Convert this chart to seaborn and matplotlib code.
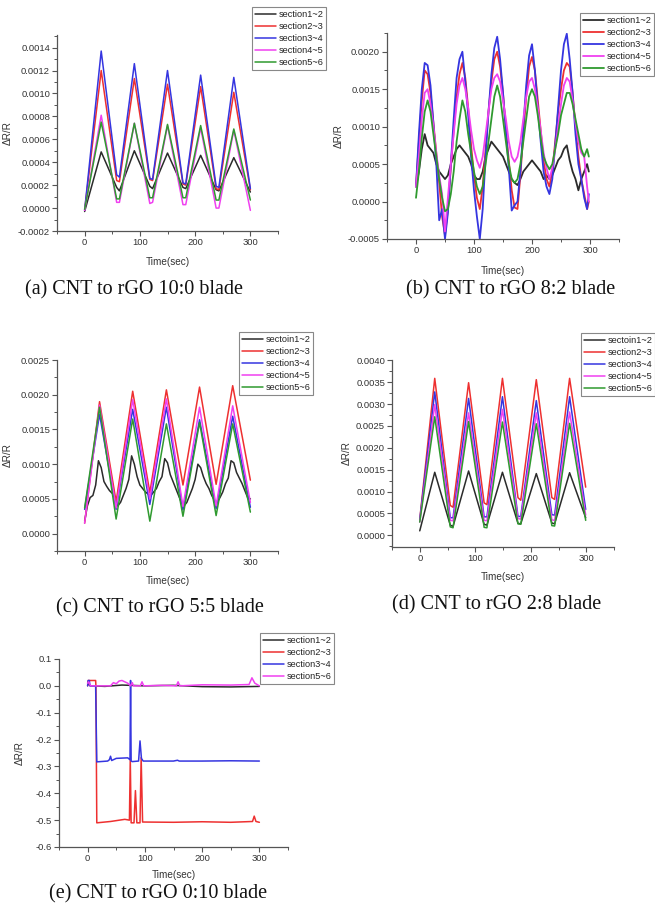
import numpy as np
import pandas as pd
import matplotlib
matplotlib.use("Agg")
import matplotlib.pyplot as plt
from matplotlib.ticker import MultipleLocator, FormatStrFormatter
import seaborn as sns

sns.set_style("ticks")
plt.rcParams["font.family"] = ["Liberation Sans", "DejaVu Sans"]
plt.rcParams["axes.unicode_minus"] = False

# ---------------- data ----------------
# (a) CNT to rGO 10:0
a_time = [0, 30, 58, 63, 90, 118, 123, 150, 178, 183, 210, 238, 243, 270, 300]
a_s12 = [-0.00003, 0.00049, 0.00018, 0.00015, 0.00050, 0.00019, 0.00017, 0.00048, 0.00018, 0.00017, 0.00046, 0.00016, 0.00015, 0.00044, 0.00014]
a_s23 = [-0.00002, 0.00120, 0.00024, 0.00023, 0.00113, 0.00025, 0.00024, 0.00108, 0.00021, 0.00020, 0.00106, 0.00017, 0.00016, 0.00101, 0.00016]
a_s34 = [-0.00002, 0.00137, 0.00029, 0.00027, 0.00126, 0.00026, 0.00025, 0.00120, 0.00022, 0.00021, 0.00116, 0.00019, 0.00018, 0.00114, 0.00017]
a_s45 = [-0.00002, 0.00081, 0.00005, 0.00005, 0.00074, 0.00004, 0.00005, 0.00072, 0.00003, 0.00003, 0.00070, 0.00000, 0.00000, 0.00068, -0.00002]
a_s56 = [-0.00001, 0.00075, 0.00008, 0.00008, 0.00074, 0.00009, 0.00009, 0.00073, 0.00009, 0.00009, 0.00072, 0.00007, 0.00007, 0.00069, 0.00007]

# (b) CNT to rGO 8:2  (values in 1e-4)
b_time = [0, 5, 10, 15, 20, 25, 30, 35, 40, 45, 50, 55, 60, 65, 70, 75, 80, 85, 90, 95,
          100, 105, 110, 115, 120, 125, 130, 135, 140, 145, 150, 155, 160, 165, 170, 175, 180, 185, 190, 195,
          200, 205, 210, 215, 220, 225, 230, 235, 240, 245, 250, 255, 260, 265, 270, 275, 280, 285, 290, 295, 298]
b_s12 = [2, 4, 7, 9, 7.5, 7, 6.5, 5, 4, 3.5, 3, 3.5, 5, 6, 7, 7.5, 7, 6.5, 6, 5,
         3.5, 3, 3, 4, 6, 7, 8, 7.5, 7, 6.5, 6, 5, 4, 3, 2.5, 2.2, 3, 4, 4.5, 5,
         5.5, 5, 4.5, 4, 3, 3.5, 3, 3.5, 4.5, 5.5, 6, 7, 7.5, 5.5, 4, 3, 1.5, 3, 4, 5, 4]
b_s23 = [2, 8, 13.5, 17.5, 17, 14.5, 10.5, 6.5, 2.5, -2, -4.5, -1, 4.5, 9.5, 14, 17, 18.5, 16.5, 12.5, 7.5,
         3.5, 0.5, -1, 2, 7, 12, 16, 19, 20, 18, 14.5, 9.5, 5.5, 1.5, -0.8, -1, 3.5, 9, 14, 18,
         19.3, 17.5, 13.5, 9.5, 5.5, 3, 2, 4, 8, 12, 15, 17.5, 18.5, 18, 14.5, 10, 6, 3, 1, -1, 0]
b_s34 = [2, 9, 15, 18.5, 18.2, 15.5, 10.5, 5, -2.5, -1, -5, -1.5, 5, 11, 16.5, 19, 20, 16, 11.5, 6,
         1.5, -2, -5, -1, 6, 12, 17, 20.5, 22, 19, 14.5, 9.5, 4.5, -1.2, -0.5, 0, 4, 10, 15.5, 19.5,
         21, 17.5, 12.5, 8, 4, 2, 1, 3, 7.5, 12.5, 17.5, 21, 22.4, 19, 14.5, 9, 5, 3, 0.5, -1, 1]
b_s45 = [2, 6, 11, 14.5, 15, 13, 10, 6.5, 3.5, 1, -4, 0.5, 5, 9, 13, 15.5, 16.5, 15, 12.5, 9.5,
         7, 5.5, 4.5, 6, 9, 12, 15, 16.5, 17, 16, 13.5, 11, 8, 6, 5.3, 6, 8, 11, 14, 16,
         16.5, 15, 12.5, 9.5, 6.5, 4.5, 3, 4.5, 7, 10, 13, 15.5, 16.5, 16, 13.5, 10.5, 8, 6.5, 6, 2, 0]
b_s56 = [0.5, 4, 8.5, 12, 13.5, 12, 9, 6, 3, 0.5, -1.3, -1, 1, 4, 8, 11, 13.5, 12, 9, 6.5,
         4, 2, 1, 2, 5, 8, 11, 14, 15.5, 14, 11, 8, 5, 3, 2.5, 3, 5, 8, 11, 14,
         15, 14, 11.5, 8.5, 6, 5, 4.3, 5, 7, 9, 11.5, 13, 14.5, 14.5, 13, 11, 9, 7, 6, 7, 6]

# (c) CNT to rGO 5:5
c_time = [0, 27, 57, 87, 118, 148, 178, 208, 238, 268, 300]
c_s23 = [0.00015, 0.00190, 0.00046, 0.00205, 0.00059, 0.00207, 0.00070, 0.00211, 0.00071, 0.00213, 0.00077]
c_s34 = [0.00035, 0.00172, 0.00035, 0.00179, 0.00042, 0.00182, 0.00034, 0.00164, 0.00036, 0.00169, 0.00038]
c_s45 = [0.00015, 0.00185, 0.00037, 0.00193, 0.00050, 0.00194, 0.00039, 0.00182, 0.00040, 0.00184, 0.00045]
c_s56 = [0.00037, 0.00182, 0.00021, 0.00165, 0.00018, 0.00158, 0.00025, 0.00160, 0.00026, 0.00158, 0.00031]
c_time12 = [0, 5, 10, 15, 20, 25, 30, 35, 40, 45, 50, 55, 60, 65, 70, 75, 80, 85, 90, 95,
            100, 105, 110, 115, 120, 125, 130, 135, 140, 145, 150, 155, 160, 165, 170, 175, 180, 185, 190, 195,
            200, 205, 210, 215, 220, 225, 230, 235, 240, 245, 250, 255, 260, 265, 270, 275, 280, 285, 290, 295, 300]
c_s12 = [0.18, 0.40, 0.52, 0.55, 0.70, 1.05, 0.95, 0.75, 0.68, 0.62, 0.58, 0.52, 0.40, 0.45, 0.55, 0.65, 0.78, 1.12, 1.00, 0.82,
         0.70, 0.65, 0.60, 0.57, 0.55, 0.60, 0.65, 0.75, 0.82, 1.08, 1.02, 0.85, 0.75, 0.65, 0.55, 0.45, 0.40, 0.45, 0.55, 0.65,
         0.78, 1.00, 0.95, 0.82, 0.72, 0.65, 0.55, 0.48, 0.45, 0.52, 0.60, 0.72, 0.80, 1.05, 1.02, 0.88, 0.80, 0.72, 0.62, 0.52, 0.50]

# (d) CNT to rGO 2:8
d_time = [0, 27, 55, 60, 88, 116, 121, 149, 177, 182, 210, 238, 243, 270, 299]
d_s12 = [0.00010, 0.00144, 0.00023, 0.00020, 0.00147, 0.00025, 0.00023, 0.00144, 0.00027, 0.00026, 0.00141, 0.00028, 0.00026, 0.00143, 0.00040]
d_s23 = [0.00036, 0.00359, 0.00068, 0.00064, 0.00349, 0.00074, 0.00070, 0.00359, 0.00086, 0.00080, 0.00356, 0.00086, 0.00082, 0.00359, 0.00110]
d_s34 = [0.00035, 0.00328, 0.00040, 0.00040, 0.00313, 0.00042, 0.00042, 0.00317, 0.00043, 0.00043, 0.00308, 0.00047, 0.00046, 0.00317, 0.00059]
d_s45 = [0.00030, 0.00299, 0.00034, 0.00033, 0.00280, 0.00034, 0.00033, 0.00288, 0.00038, 0.00037, 0.00280, 0.00035, 0.00034, 0.00282, 0.00046]
d_s56 = [0.00030, 0.00271, 0.00019, 0.00017, 0.00260, 0.00018, 0.00017, 0.00259, 0.00026, 0.00025, 0.00255, 0.00022, 0.00021, 0.00256, 0.00034]

# (e) CNT to rGO 0:10
e_t12 = [0, 2, 5, 10, 30, 60, 100, 150, 200, 250, 300]
e_s12 = [0.01, 0.005, 0.0, 0.0, -0.002, 0.003, 0.0, 0.002, -0.003, -0.004, -0.002]
e_t23 = [0, 1, 14, 14.5, 16, 40, 65, 73, 74.5, 76, 81, 83.5, 86, 91.5, 93.5, 96, 150, 200, 250, 288, 291, 294, 300]
e_s23 = [0.0, 0.02, 0.02, 0.0, -0.51, -0.505, -0.497, -0.50, -0.27, -0.51, -0.51, -0.39, -0.51, -0.51, -0.267, -0.507,
         -0.508, -0.506, -0.508, -0.505, -0.485, -0.505, -0.508]
e_t34 = [0, 1, 3, 4, 14, 16, 35, 38, 40, 42, 50, 70, 74, 75, 76, 78, 89, 91.5, 94, 97, 150, 157, 160, 200, 250, 300]
e_s34 = [0.0, 0.02, 0.02, 0.0, 0.0, -0.283, -0.28, -0.275, -0.262, -0.278, -0.27, -0.268, -0.275, 0.02, -0.28, -0.282,
         -0.28, -0.205, -0.27, -0.28, -0.28, -0.277, -0.28, -0.28, -0.279, -0.28]
e_t56 = [0, 2, 5, 20, 40, 45, 50, 55, 60, 65, 70, 75, 78, 80, 92, 95, 98, 130, 155, 158, 161, 200, 250, 282, 287, 292, 300]
e_s56 = [0.01, 0.015, 0.0, 0.0, 0.0, 0.012, 0.008, 0.018, 0.02, 0.015, 0.01, 0.0, 0.012, 0.0, 0.0, 0.015, 0.0, 0.002,
         0.0, 0.015, 0.0, 0.004, 0.003, 0.005, 0.03, 0.01, 0.0]

labels_std = ["section1~2", "section2~3", "section3~4", "section4~5", "section5~6"]
labels_typo = ["sectoin1~2", "section2~3", "section3~4", "section4~5", "section5~6"]
labels_e = ["section1~2", "section2~3", "section3~4", "section5~6"]
captions = ["(a) CNT to rGO 10:0 blade", "(b) CNT to rGO 8:2 blade", "(c) CNT to rGO 5:5 blade",
            "(d) CNT to rGO 2:8 blade", "(e) CNT to rGO 0:10 blade"]

COL = {"k": "#2b2b2b", "r": "#ee3030", "b": "#3535e0", "m": "#f040f0", "g": "#2f9a2f"}

# ---------------- figure ----------------
W, H = 655, 909
fig = plt.figure(figsize=(W / 100, H / 100), dpi=100)
fig.patch.set_facecolor("white")


def add_axes(l, t, r, b):
    return fig.add_axes([l / W, 1 - b / H, (r - l) / W, (b - t) / H])


def style(ax, ylim, ymaj, ymin, yfmt, ylab_x, xlab_y):
    ax.set_xlim(-50, 350)
    ax.set_ylim(*ylim)
    ax.xaxis.set_major_locator(MultipleLocator(100))
    ax.xaxis.set_minor_locator(MultipleLocator(50))
    ax.yaxis.set_major_locator(MultipleLocator(ymaj))
    ax.yaxis.set_minor_locator(MultipleLocator(ymin))
    ax.yaxis.set_major_formatter(FormatStrFormatter(yfmt))
    ax.xaxis.set_major_formatter(FormatStrFormatter("%d"))
    for s in ["top", "right"]:
        ax.spines[s].set_visible(False)
    for s in ["left", "bottom"]:
        ax.spines[s].set_color("#555555")
        ax.spines[s].set_linewidth(0.9)
    ax.tick_params(which="major", direction="out", length=3.5, width=0.8, colors="#555555",
                   labelsize=6.8, labelcolor="#333333", pad=1.5)
    ax.tick_params(which="minor", direction="out", length=2, width=0.7, colors="#555555")
    ax.set_xlabel("Time(sec)", fontsize=7.2, color="#333333")
    ax.set_ylabel("ΔR/R", fontsize=7.2, color="#333333")
    ax.yaxis.set_label_coords(ylab_x, 0.5)
    ax.xaxis.set_label_coords(0.5, xlab_y)
    ax.set_facecolor("white")


def draw(ax, series, lw=1.0):
    for t, v, c, lab in series:
        sns.lineplot(x=np.asarray(t, float), y=np.asarray(v, float), ax=ax, color=c, label=lab,
                     linewidth=lw, estimator=None, legend=True)


def legend(ax, fx, fy):
    leg = ax.legend(loc="upper left", bbox_to_anchor=(fx / W, 1 - fy / H), bbox_transform=fig.transFigure,
                    fontsize=6.6, frameon=True, fancybox=False, edgecolor="#888888", framealpha=1,
                    borderpad=0.3, labelspacing=0.34, handlelength=2.3, handletextpad=0.3, borderaxespad=0)
    leg.get_frame().set_linewidth(0.8)
    for txt in leg.get_texts():
        txt.set_color("#222222")


# (a)
ax = add_axes(57, 35, 278, 231)
draw(ax, [(a_time, a_s12, COL["k"], labels_std[0]), (a_time, a_s23, COL["r"], labels_std[1]),
          (a_time, a_s34, COL["b"], labels_std[2]), (a_time, a_s45, COL["m"], labels_std[3]),
          (a_time, a_s56, COL["g"], labels_std[4])], lw=1.1)
style(ax, (-0.0002, 0.00151), 0.0002, 0.0001, "%.4f", -0.198, -0.131)
legend(ax, 252, 7)

# (b)
ax = add_axes(387, 33, 619, 239)
sc = 1e-4
draw(ax, [(b_time, np.asarray(b_s12) * sc, COL["k"], labels_std[0]),
          (b_time, np.asarray(b_s23) * sc, COL["r"], labels_std[1]),
          (b_time, np.asarray(b_s34) * sc, COL["b"], labels_std[2]),
          (b_time, np.asarray(b_s45) * sc, COL["m"], labels_std[3]),
          (b_time, np.asarray(b_s56) * sc, COL["g"], labels_std[4])], lw=1.3)
style(ax, (-0.0005, 0.00225), 0.0005, 0.00025, "%.4f", -0.188, -0.13)
legend(ax, 580, 13)

# (c)
ax = add_axes(57, 360, 278, 551)
draw(ax, [(c_time12, np.asarray(c_s12) * 1e-3, COL["k"], labels_typo[0]),
          (c_time, c_s23, COL["r"], labels_typo[1]), (c_time, c_s34, COL["b"], labels_typo[2]),
          (c_time, c_s45, COL["m"], labels_typo[3]), (c_time, c_s56, COL["g"], labels_typo[4])], lw=1.1)
style(ax, (-0.00025, 0.0025), 0.0005, 0.00025, "%.4f", -0.2, -0.131)
legend(ax, 239, 332)

# (d)
ax = add_axes(392, 360, 614, 547)
draw(ax, [(d_time, d_s12, COL["k"], labels_typo[0]), (d_time, d_s23, COL["r"], labels_typo[1]),
          (d_time, d_s34, COL["b"], labels_typo[2]), (d_time, d_s45, COL["m"], labels_typo[3]),
          (d_time, d_s56, COL["g"], labels_typo[4])], lw=1.1)
style(ax, (-0.00027, 0.00401), 0.0005, 0.00025, "%.4f", -0.18, -0.132)
legend(ax, 581, 333)

# (e)
ax = add_axes(59, 659, 288, 847)
draw(ax, [(e_t12, e_s12, COL["k"], labels_e[0]), (e_t23, e_s23, COL["r"], labels_e[1]),
          (e_t34, e_s34, COL["b"], labels_e[2]), (e_t56, e_s56, COL["m"], labels_e[3])], lw=1.1)
style(ax, (-0.6, 0.1), 0.1, 0.05, "%.1f", -0.148, -0.124)
legend(ax, 260, 633)

# captions
cap_pos = [(134, 290), (511, 290), (160, 608), (497, 605), (158, 894)]
for (cx, cy), cap in zip(cap_pos, captions):
    fig.text(cx / W, 1 - cy / H, cap, ha="center", va="center", fontsize=14.5,
             family=["Liberation Serif", "DejaVu Serif"], color="#111111")

fig.savefig("out.png", dpi=100)
